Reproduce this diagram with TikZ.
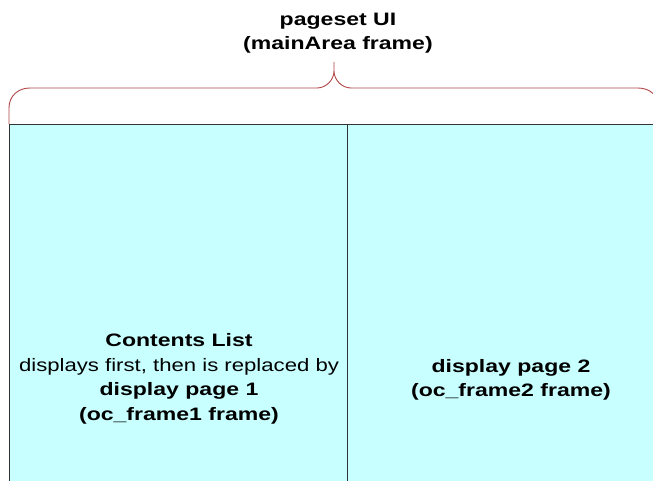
\documentclass[tikz,border=0pt]{standalone}
\usepackage{fontspec}
\setmainfont{Liberation Sans}
\usetikzlibrary{positioning}

\definecolor{framefill}{HTML}{C8FFFF}
\definecolor{bracered}{HTML}{B04545}
\newcommand{\widebold}[1]{\scalebox{1.28}[1]{\textbf{#1}}}
\newcommand{\wideplain}[1]{\scalebox{1.23}[1]{#1}}

\begin{document}
\begin{tikzpicture}[x=1pt,y=-1pt,
                    frame/.style={draw=black!80,fill=framefill,line width=1pt,anchor=north west,
                                  minimum height=400pt,inner sep=0pt},
                    label text/.style={align=center,font=\fontsize{18}{24.6}\selectfont},
                    brace line/.style={draw=bracered,line width=0.9pt}]
  \useasboundingbox (0,0) rectangle (653,481);
  \clip (0,0) rectangle (653,481);
  \fill[white] (0,0) rectangle (653,481);
  % the two frames of the page set
  \node[frame,minimum width=338pt] (left) at (9,124) {};
  \node[frame,minimum width=330pt] (right) at (347,124) {};
  % texts
  \node[label text] (main) at (338,33) {\widebold{pageset UI}\\\widebold{(mainArea frame)}};
  \node[label text] (list) at (179,379) {\widebold{Contents List}\\
                                         \wideplain{displays first, then is replaced by}\\
                                         \widebold{display page 1}\\
                                         \widebold{(oc\_frame1 frame)}};
  \node[label text] (page2) at (511,380) {\widebold{display page 2}\\\widebold{(oc\_frame2 frame)}};
  % brace over both frames
  \coordinate (tip) at (334,62);
  \coordinate (rightend) at (659,124);
  \path[brace line]
    (left.north west) -- (9,108) .. controls (9,96) and (18,88) .. (30,88)
    -- (317,88) .. controls (326,88) and (334,80) .. (334,71) -- (tip)
    -- (334,71) .. controls (334,80) and (342,88) .. (351,88)
    -- (638,88) .. controls (650,88) and (659,96) .. (659,108) -- (rightend);
\end{tikzpicture}
\end{document}
